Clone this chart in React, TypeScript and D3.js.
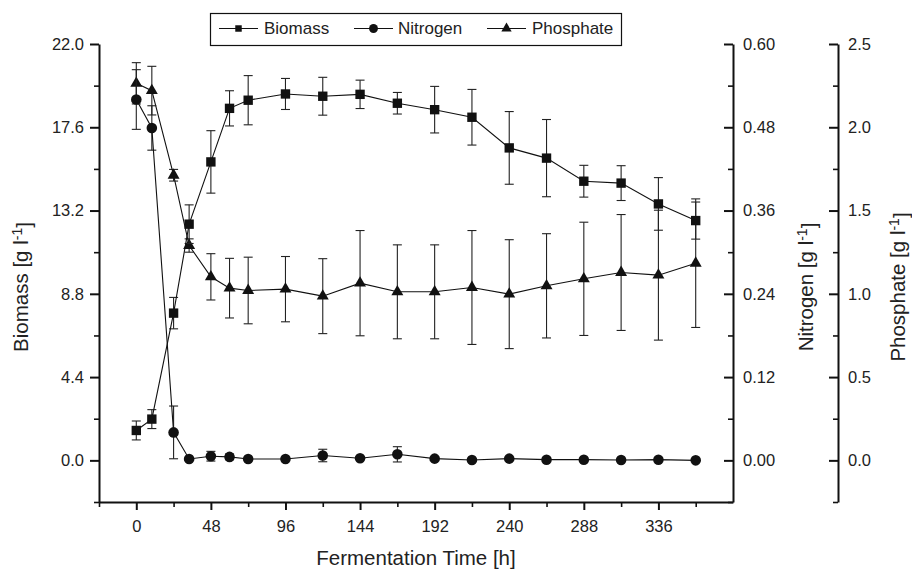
import * as d3 from "d3";
import { useEffect, useRef } from "react";

// sampling times [h]
const times = [0, 10, 24, 34, 48, 60, 72, 96, 120, 144, 168, 192, 216, 240, 264, 288, 312, 336, 360];

// biomass [g/l]
const biomass = [1.58, 2.18, 7.78, 12.48, 15.77, 18.6, 19.03, 19.36, 19.24, 19.34, 18.87, 18.53, 18.13, 16.51, 15.97, 14.75, 14.65, 13.55, 12.67];
const biomassErr = [0.5, 0.5, 0.83, 1.02, 1.65, 0.93, 1.3, 0.82, 1.0, 0.75, 0.57, 1.23, 1.47, 1.92, 2.04, 0.84, 0.92, 1.39, 0.98];

// nitrogen [g/l]
const nitrogen = [0.52, 0.479, 0.0403, 0.002, 0.006, 0.005, 0.002, 0.002, 0.007, 0.003, 0.0087, 0.0025, 0.0005, 0.0025, 0.001, 0.001, 0.0005, 0.001, 0.0];
const nitrogenErr = [0.043, 0.032, 0.038, 0.002, 0.007, 0.004, 0.001, 0.002, 0.009, 0.002, 0.011, 0.002, 0, 0.001, 0, 0, 0, 0, 0];

// phosphate [g/l]
const phosphate = [2.264, 2.22, 1.712, 1.29, 1.102, 1.034, 1.02, 1.028, 0.986, 1.064, 1.012, 1.012, 1.038, 0.998, 1.048, 1.09, 1.128, 1.112, 1.184];
const phosphateErr = [0.124, 0.146, 0.035, 0.04, 0.139, 0.179, 0.2, 0.196, 0.225, 0.316, 0.282, 0.282, 0.342, 0.327, 0.313, 0.34, 0.348, 0.39, 0.386];

const xTicks = [0, 48, 96, 144, 192, 240, 288, 336];
const xMinor = [-24, 24, 72, 120, 168, 216, 264, 312, 360];
const biomassTicks = [0, 4.4, 8.8, 13.2, 17.6, 22.0];
const biomassMinor = [-2.2, 2.2, 6.6, 11.0, 15.4, 19.8];
const nitrogenTicks = [0, 0.12, 0.24, 0.36, 0.48, 0.6];
const nitrogenMinor = [-0.06, 0.06, 0.18, 0.3, 0.42, 0.54];
const phosphateTicks = [0, 0.5, 1.0, 1.5, 2.0, 2.5];
const phosphateMinor = [-0.25, 0.25, 0.75, 1.25, 1.75, 2.25];

const FONT = "'Liberation Sans', Arial, Helvetica, sans-serif";
const W = 912;
const H = 571;
const margin = { top: 44, bottom: 69, left: 99, right: 179 };

export default function App() {
  const ref = useRef<SVGSVGElement>(null);

  useEffect(() => {
    document.body.style.margin = "0";
    const svg = d3.select(ref.current);
    svg.selectAll("*").remove();

    const x = d3.scaleLinear().domain([-24, 384]).range([margin.left, W - margin.right]);
    const yB = d3.scaleLinear().domain([-2.2, 22]).range([H - margin.bottom, margin.top]);
    const yN = d3.scaleLinear().domain([-0.06, 0.6]).range([H - margin.bottom, margin.top]);
    const yP = d3.scaleLinear().domain([-0.25, 2.5]).range([H - margin.bottom, margin.top]);
    const x0 = margin.left;
    const xN = W - margin.right;
    const xP = 838;
    const yBottom = H - margin.bottom;

    const style = (g: any, major: boolean) => {
      g.attr("font-family", FONT).attr("font-size", 16.5);
      g.select(".domain").attr("stroke", "#111").attr("stroke-width", 2);
      g.selectAll(".tick line").attr("stroke", "#111").attr("stroke-width", major ? 2 : 1.6);
      g.selectAll(".tick text").attr("fill", "#222");
      if (!major) g.select(".domain").remove();
    };

    // axes
    svg.append("g").attr("transform", `translate(${x0},0)`)
      .call(d3.axisLeft(yB).tickValues(biomassTicks).tickSize(9).tickSizeOuter(0).tickPadding(6).tickFormat(d3.format(".1f")))
      .call((g: any) => style(g, true));
    svg.append("g").attr("transform", `translate(${x0},0)`)
      .call(d3.axisLeft(yB).tickValues(biomassMinor).tickSize(5).tickFormat(() => ""))
      .call((g: any) => style(g, false));

    svg.append("g").attr("transform", `translate(0,${yBottom})`)
      .call(d3.axisBottom(x).tickValues(xTicks).tickSize(8).tickSizeOuter(0).tickPadding(10))
      .call((g: any) => style(g, true));
    svg.append("g").attr("transform", `translate(0,${yBottom})`)
      .call(d3.axisBottom(x).tickValues(xMinor).tickSize(5).tickFormat(() => ""))
      .call((g: any) => style(g, false));

    svg.append("g").attr("transform", `translate(${xN},0)`)
      .call(d3.axisRight(yN).tickValues(nitrogenTicks).tickSizeInner(-9).tickSizeOuter(0).tickPadding(10).tickFormat(d3.format(".2f")))
      .call((g: any) => style(g, true));
    svg.append("g").attr("transform", `translate(${xN},0)`)
      .call(d3.axisRight(yN).tickValues(nitrogenMinor).tickSizeInner(-5).tickSizeOuter(0).tickFormat(() => ""))
      .call((g: any) => style(g, false));

    svg.append("g").attr("transform", `translate(${xP},0)`)
      .call(d3.axisRight(yP).tickValues(phosphateTicks).tickSizeInner(-9).tickSizeOuter(0).tickPadding(10).tickFormat(d3.format(".1f")))
      .call((g: any) => style(g, true));
    svg.append("g").attr("transform", `translate(${xP},0)`)
      .call(d3.axisRight(yP).tickValues(phosphateMinor).tickSizeInner(-5).tickSizeOuter(0).tickFormat(() => ""))
      .call((g: any) => style(g, false));

    // axis titles
    const unitLabel = (tx: number, ty: number, name: string, rotate: boolean) => {
      const t = svg.append("text")
        .attr("transform", `translate(${tx},${ty})${rotate ? " rotate(-90)" : ""}`)
        .attr("text-anchor", "middle")
        .attr("font-family", FONT)
        .attr("font-size", 20.5)
        .attr("fill", "#222");
      t.append("tspan").text(`${name} [g l`);
      t.append("tspan").attr("dy", "-0.45em").attr("font-size", 14).text("-1");
      t.append("tspan").attr("dy", "0.45em").text("]");
    };
    unitLabel(28, 287, "Biomass", true);
    unitLabel(813, 287, "Nitrogen", true);
    unitLabel(905, 287, "Phosphate", true);

    svg.append("text")
      .attr("x", 416).attr("y", 565)
      .attr("text-anchor", "middle")
      .attr("font-family", FONT).attr("font-size", 20.5).attr("fill", "#222")
      .text("Fermentation Time [h]");

    // series
    const series = [
      { name: "Phosphate", vals: phosphate, errs: phosphateErr, y: yP, sym: d3.symbolTriangle, size: 62, legSize: 46 },
      { name: "Nitrogen", vals: nitrogen, errs: nitrogenErr, y: yN, sym: d3.symbolCircle, size: 88, legSize: 62 },
      { name: "Biomass", vals: biomass, errs: biomassErr, y: yB, sym: d3.symbolSquare, size: 88, legSize: 42 },
    ];

    series.forEach((s) => {
      const g = svg.append("g");
      const data = times.map((t, i) => ({ t, v: s.vals[i], e: s.errs[i] }));
      const bars = g.selectAll(".err").data(data.filter((d) => d.e > 0)).enter().append("g")
        .attr("stroke", "#222").attr("stroke-width", 1.1);
      bars.append("line")
        .attr("x1", (d) => x(d.t)).attr("x2", (d) => x(d.t))
        .attr("y1", (d) => s.y(d.v - d.e)).attr("y2", (d) => s.y(d.v + d.e));
      [-1, 1].forEach((k) => {
        bars.append("line")
          .attr("x1", (d) => x(d.t) - 4.5).attr("x2", (d) => x(d.t) + 4.5)
          .attr("y1", (d) => s.y(d.v + k * d.e)).attr("y2", (d) => s.y(d.v + k * d.e));
      });
      g.append("path")
        .datum(data)
        .attr("fill", "none").attr("stroke", "#111").attr("stroke-width", 1.1)
        .attr("d", d3.line<any>().x((d) => x(d.t)).y((d) => s.y(d.v)));
      g.selectAll(".mark").data(data).enter().append("path")
        .attr("transform", (d) => `translate(${x(d.t)},${s.y(d.v)})`)
        .attr("d", d3.symbol().type(s.sym).size(s.size)())
        .attr("fill", "#111");
    });

    // legend
    const leg = svg.append("g");
    leg.append("rect").attr("x", 210.5).attr("y", 13.5).attr("width", 411).attr("height", 32)
      .attr("fill", "white").attr("stroke", "#111").attr("stroke-width", 1.2);
    const legItems = [
      { s: series[2], lx: 219, tx: 264 },
      { s: series[1], lx: 354, tx: 398 },
      { s: series[0], lx: 487, tx: 532 },
    ];
    legItems.forEach(({ s, lx, tx }) => {
      leg.append("line").attr("x1", lx).attr("x2", lx + 39).attr("y1", 28.5).attr("y2", 28.5)
        .attr("stroke", "#111").attr("stroke-width", 1);
      leg.append("path").attr("transform", `translate(${lx + 19.5},28.5)`)
        .attr("d", d3.symbol().type(s.sym).size(s.legSize)()).attr("fill", "#111");
      leg.append("text").attr("x", tx).attr("y", 34)
        .attr("font-family", FONT).attr("font-size", 17).attr("fill", "#222")
        .text(s.name);
    });
  }, []);

  return <svg ref={ref} width={W} height={H} style={{ display: "block", background: "white" }} />;
}
